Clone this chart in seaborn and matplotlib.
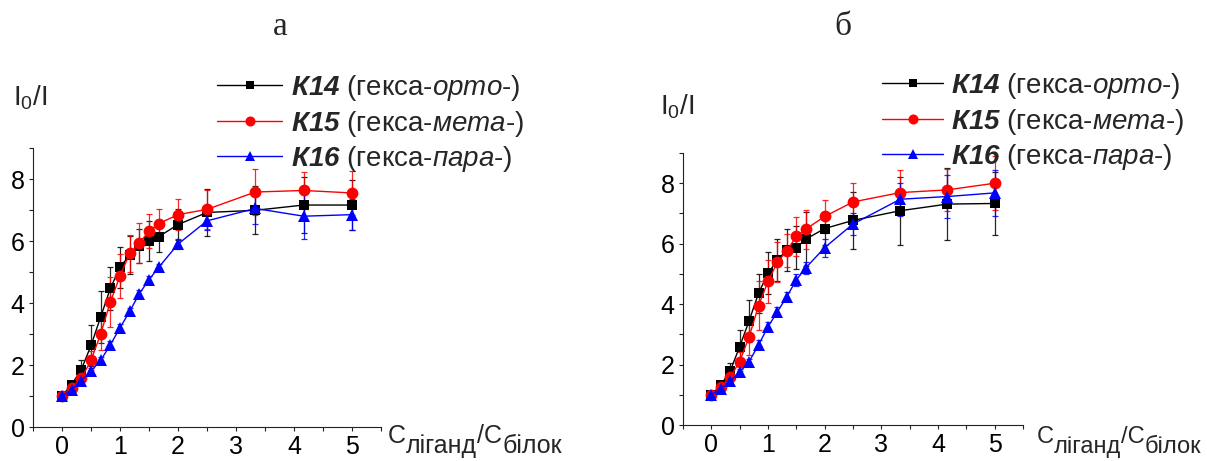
import numpy as np
import pandas as pd
import matplotlib
matplotlib.use("Agg")
import matplotlib.pyplot as plt
from matplotlib.ticker import MultipleLocator
from matplotlib.lines import Line2D
import seaborn as sns

# Ligand / protein concentration ratio (shared by both panels)
ratio = [0, 0.167, 0.333, 0.5, 0.667, 0.833, 1.0, 1.167, 1.333, 1.5, 1.667,
         2.0, 2.5, 3.333, 4.167, 5.0]

series_names = ["К14", "К15", "К16"]

# Panel а: I0/I values and errors
a_k14 = [1.0, 1.37, 1.85, 2.63, 3.55, 4.47, 5.15, 5.55, 5.83, 6.01, 6.14,
         6.53, 6.92, 6.99, 7.16, 7.16]
a_k14_err = [0.05, 0.1, 0.3, 0.65, 0.85, 0.7, 0.65, 0.6, 0.55, 0.65, 0.5,
             0.5, 0.75, 0.77, 0.9, 0.8]
a_k15 = [1.0, 1.27, 1.57, 2.15, 3.0, 4.03, 4.87, 5.6, 5.93, 6.32, 6.56,
         6.85, 7.02, 7.58, 7.63, 7.55]
a_k15_err = [0.05, 0.1, 0.15, 0.3, 0.5, 0.8, 0.7, 0.6, 0.65, 0.55, 0.47,
             0.5, 0.63, 0.75, 0.6, 0.72]
a_k16 = [1.0, 1.2, 1.5, 1.8, 2.15, 2.65, 3.2, 3.73, 4.3, 4.75, 5.15,
         5.9, 6.65, 7.05, 6.8, 6.85]
a_k16_err = [0.05, 0.1, 0.1, 0.1, 0.1, 0.12, 0.12, 0.12, 0.12, 0.12, 0.12,
             0.15, 0.3, 0.5, 0.72, 0.5]

# Panel б: I0/I values and errors
b_k14 = [1.0, 1.32, 1.79, 2.59, 3.45, 4.36, 5.02, 5.46, 5.8, 5.87, 6.15,
         6.5, 6.77, 7.09, 7.31, 7.33]
b_k14_err = [0.05, 0.1, 0.25, 0.55, 0.7, 0.65, 0.7, 0.7, 0.7, 0.7, 0.9,
             0.55, 0.95, 1.13, 1.2, 1.05]
b_k15 = [1.0, 1.25, 1.58, 2.1, 2.92, 3.95, 4.75, 5.39, 5.77, 6.24, 6.48,
         6.9, 7.38, 7.69, 7.78, 8.0]
b_k15_err = [0.05, 0.1, 0.15, 0.3, 0.6, 0.8, 0.7, 0.65, 0.55, 0.64, 0.65,
             0.55, 0.64, 0.75, 0.7, 0.9]
b_k16 = [1.0, 1.2, 1.45, 1.75, 2.1, 2.65, 3.25, 3.75, 4.25, 4.8, 5.2,
         5.87, 6.65, 7.47, 7.56, 7.68]
b_k16_err = [0.05, 0.1, 0.1, 0.1, 0.1, 0.15, 0.15, 0.15, 0.15, 0.2, 0.2,
             0.3, 0.35, 0.55, 0.7, 0.75]

legend_labels = [r"$\mathbfit{К14}$ (гекса-$\mathit{орто}$-)",
                 r"$\mathbfit{К15}$ (гекса-$\mathit{мета}$-)",
                 r"$\mathbfit{К16}$ (гекса-$\mathit{пара}$-)"]

# x-axis title pieces: (text, lowered?)
xlab_parts = [("C", False), ("ліганд", True), ("/C", False), ("білок", True)]

colors = {"К14": "#000000", "К15": "#ff0000", "К16": "#0000ff"}
markers = {"К14": "s", "К15": "o", "К16": "^"}
msizes = {"К14": 7.5, "К15": 8.5, "К16": 9}

sns.set_style("ticks")
plt.rcParams["font.family"] = ["Liberation Sans", "DejaVu Sans"]
plt.rcParams["mathtext.fontset"] = "custom"
plt.rcParams["mathtext.rm"] = "Liberation Sans"
plt.rcParams["mathtext.it"] = "Liberation Sans:italic"
plt.rcParams["mathtext.bf"] = "Liberation Sans:bold"
plt.rcParams["mathtext.bfit"] = "Liberation Sans:bold:italic"

fig = plt.figure(figsize=(12.07, 4.61), dpi=100)
W, H = 1207, 461


def px_axes(x0, x1, ytop, ybot):
    return fig.add_axes([x0 / W, (H - ybot) / H, (x1 - x0) / W, (ybot - ytop) / H])


ax_a = px_axes(33, 381, 148, 427)
ax_b = px_axes(683, 1023, 153, 425)


def draw_panel(ax, values, errors):
    frames = []
    for name, vals in zip(series_names, values):
        frames.append(pd.DataFrame({"ratio": ratio, "value": vals, "series": name}))
    df = pd.concat(frames, ignore_index=True)
    for name, err in zip(series_names, errors):
        sub = df[df["series"] == name]
        ax.errorbar(sub["ratio"], sub["value"], yerr=err, fmt="none",
                    ecolor=colors[name], elinewidth=0.9, capsize=2.5,
                    capthick=0.9, alpha=0.85, zorder=2)
    for name in series_names:
        sub = df[df["series"] == name]
        sns.lineplot(data=sub, x="ratio", y="value", ax=ax, color=colors[name],
                     marker=markers[name], markersize=msizes[name],
                     markeredgewidth=0, linewidth=1.0, sort=False,
                     legend=False, zorder=3)
    ax.set_xlim(-0.5, 5.5)
    ax.set_ylim(0, 9)
    ax.xaxis.set_major_locator(MultipleLocator(1))
    ax.xaxis.set_minor_locator(MultipleLocator(0.5))
    ax.yaxis.set_major_locator(MultipleLocator(2))
    ax.yaxis.set_minor_locator(MultipleLocator(1))
    ax.set_xlabel("")
    ax.set_ylabel("")
    sns.despine(ax=ax)
    for s in ("left", "bottom"):
        ax.spines[s].set_linewidth(0.8)
        ax.spines[s].set_color("#222222")
    ax.tick_params(which="both", direction="out", length=3, width=0.8,
                   color="#222222", labelsize=18, labelcolor="black")
    ax.tick_params(axis="x", which="major", pad=3)
    ax.tick_params(axis="y", which="major", pad=3)


draw_panel(ax_a, [a_k14, a_k15, a_k16], [a_k14_err, a_k15_err, a_k16_err])
draw_panel(ax_b, [b_k14, b_k15, b_k16], [b_k14_err, b_k15_err, b_k16_err])


def add_legend(ax, x, y, hlen):
    handles = [Line2D([], [], color=colors[n], marker=markers[n],
                      markersize=msizes[n] * 0.85, markeredgewidth=0, linewidth=1.0)
               for n in series_names]
    ax.legend(handles, legend_labels, loc="upper left",
              bbox_to_anchor=(x / W, (H - y) / H),
              bbox_transform=fig.transFigure, frameon=False, fontsize=20,
              handlelength=hlen, handletextpad=0.3, labelspacing=0.2,
              borderpad=0, borderaxespad=0)


add_legend(ax_a, 217, 73, 2.35)
add_legend(ax_b, 882, 71, 2.2)

# Panel letters
fig.text(280 / W, (H - 27) / H, "а", fontsize=24, family="Liberation Serif",
         ha="center", va="center")
fig.text(843 / W, (H - 27) / H, "б", fontsize=24, family="Liberation Serif",
         ha="center", va="center")

# y-axis titles
ylab = r"I$_{\mathrm{0}}$/I"
fig.text(13 / W, (H - 106) / H, ylab, fontsize=20, ha="left", va="baseline")
fig.text(660 / W, (H - 114) / H, ylab, fontsize=20, ha="left", va="baseline")

# x-axis titles: same-size lowered text for the subscripts
renderer = fig.canvas.get_renderer()


def put_xlab(x0, base, size):
    x = x0
    for txt, low in xlab_parts:
        y = base + (10 if low else 0)
        t = fig.text(x / W, (H - y) / H, txt, fontsize=size, ha="left", va="baseline")
        x += t.get_window_extent(renderer).width


put_xlab(388, 443, 18)
put_xlab(1037, 443, 17)

fig.savefig("out.png", dpi=100)
